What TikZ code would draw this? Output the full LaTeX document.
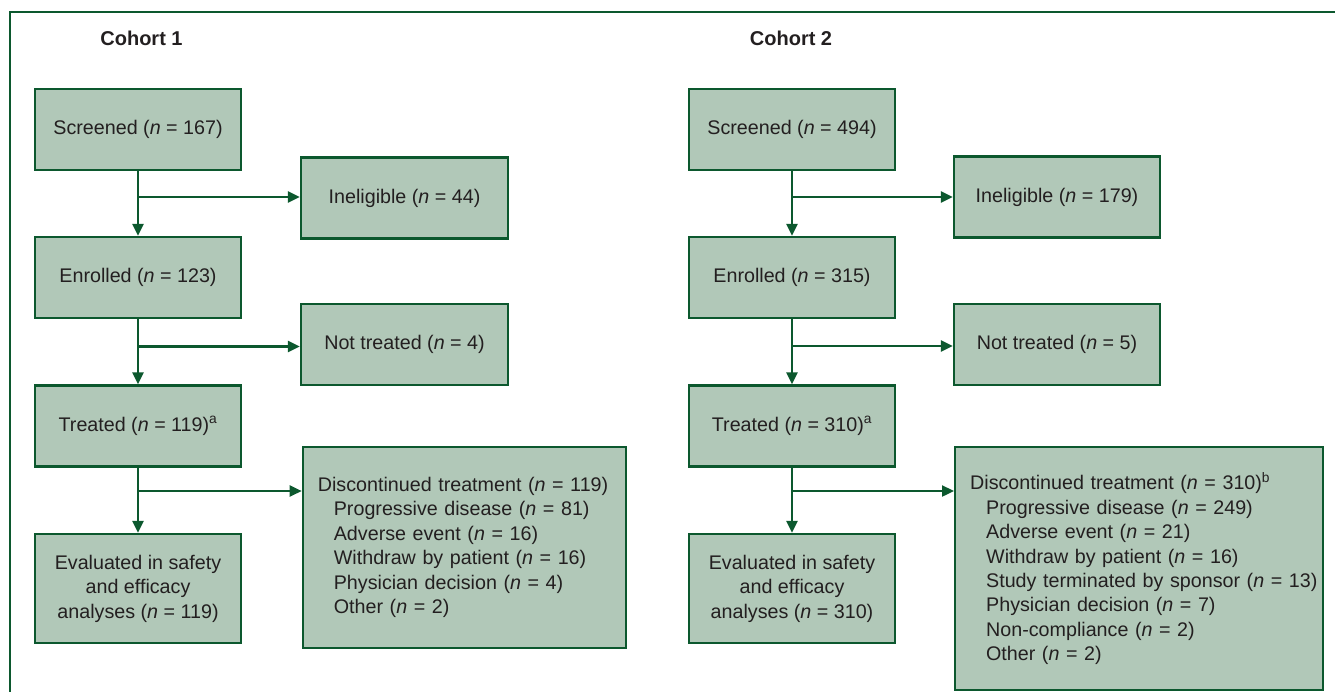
\documentclass[tikz,border=0pt]{standalone}
\usepackage{fontspec}
\setmainfont{Liberation Sans}
\usetikzlibrary{arrows.meta}
\definecolor{boxgreen}{RGB}{177,200,184}
\definecolor{linegreen}{RGB}{12,88,46}
\definecolor{ink}{RGB}{35,31,32}
\newcommand{\nval}[1]{(\textit{n}~=~#1)}
\newcommand{\subline}[1]{\mbox{\hspace*{16pt}#1}}
\tikzset{
  box/.style= {draw=linegreen, fill=boxgreen, line width=2.3pt, inner sep=0pt, text=ink,
    align=center, font=\fontsize{19.7}{24.4}\selectfont},
  sbox/.style= {box, minimum width=206pt, minimum height=81pt},
  lbox/.style= {box, anchor=north west, align=left, inner xsep=15pt},
  head/.style= {text=ink, font=\fontsize{20}{24}\selectfont\bfseries},
  arr/.style= {draw=linegreen, line width=2.3pt, -{Triangle[length=12pt,width=11pt]}},
  frame/.style= {draw=linegreen, line width=2.3pt},
}

\begin{document}
\begin{tikzpicture}[x=1pt, y=-1pt]
  \useasboundingbox (0,0) rectangle (1335,691);
  \draw [frame] (10,12) rectangle (1350,710);

  % cohort 1
  \node [head] (h1) at (141.5,38) {Cohort 1};
  \node [sbox] (s1) at (138,129.5) {Screened \nval{167}};
  \node [sbox] (e1) at (138,277.5) {Enrolled \nval{123}};
  \node [sbox] (t1) at (138,426) {Treated \nval{119}\textsuperscript{a}};
  \node [sbox, minimum height=109pt] (v1) at (138,588.5)
    {Evaluated in safety\\and efficacy\\analyses \nval{119}};
  \node [sbox, minimum width=207pt] (i1) at (404.5,198) {Ineligible \nval{44}};
  \node [sbox, minimum width=207pt] (n1) at (404.5,344.5) {Not treated \nval{4}};
  \node [lbox, text width=293pt, minimum height=200.5pt] (d1) at (301.7,446)
    {\mbox{Discontinued treatment \nval{119}}\\
     \subline{Progressive disease \nval{81}}\\
     \subline{Adverse event \nval{16}}\\
     \subline{Withdraw by patient \nval{16}}\\
     \subline{Physician decision \nval{4}}\\
     \subline{Other \nval{2}}};

  \coordinate (a1) at (138,197);
  \coordinate (b1) at (138,346.5);
  \coordinate (c1) at (138,491);
  \draw [arr] (s1) -- (e1);
  \draw [arr] (e1) -- (t1);
  \draw [arr] (t1) -- (v1);
  \draw [arr] (a1) -- (a1 -| i1.west);
  \draw [arr] (b1) -- (b1 -| n1.west);
  \draw [arr] (c1) -- (c1 -| d1.west);

  % cohort 2
  \node [head] (h2) at (791,38) {Cohort 2};
  \node [sbox] (s2) at (792,129.5) {Screened \nval{494}};
  \node [sbox] (e2) at (792,277.5) {Enrolled \nval{315}};
  \node [sbox] (t2) at (792,426) {Treated \nval{310}\textsuperscript{a}};
  \node [sbox, minimum height=109pt] (v2) at (792,588.5)
    {Evaluated in safety\\and efficacy\\analyses \nval{310}};
  \node [sbox] (i2) at (1057,197) {Ineligible \nval{179}};
  \node [sbox] (n2) at (1057,344.5) {Not treated \nval{5}};
  \node [lbox, text width=338pt, minimum height=243pt] (d2) at (954,446)
    {\mbox{Discontinued treatment \nval{310}\textsuperscript{b}}\\
     \subline{Progressive disease \nval{249}}\\
     \subline{Adverse event \nval{21}}\\
     \subline{Withdraw by patient \nval{16}}\\
     \subline{Study terminated by sponsor \nval{13}}\\
     \subline{Physician decision \nval{7}}\\
     \subline{Non-compliance \nval{2}}\\
     \subline{Other \nval{2}}};

  \coordinate (a2) at (792,197);
  \coordinate (b2) at (792,346);
  \coordinate (c2) at (792,491);
  \draw [arr] (s2) -- (e2);
  \draw [arr] (e2) -- (t2);
  \draw [arr] (t2) -- (v2);
  \draw [arr] (a2) -- (a2 -| i2.west);
  \draw [arr] (b2) -- (b2 -| n2.west);
  \draw [arr] (c2) -- (c2 -| d2.west);
\end{tikzpicture}
\end{document}
